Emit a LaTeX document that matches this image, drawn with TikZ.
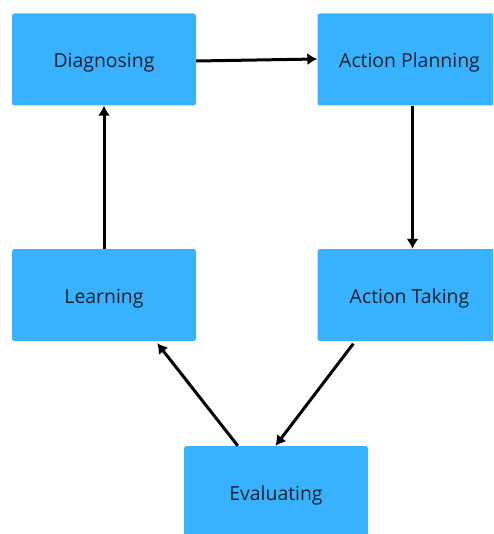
\documentclass[tikz,border=0pt]{standalone}
\usepackage{fontspec}
\setmainfont{Open Sans}
\usetikzlibrary{arrows.meta}
\definecolor{boxblue}{RGB}{56,178,255}
\definecolor{txt}{RGB}{22,30,46}
\begin{document}
\begin{tikzpicture}[x=1pt,y=-1pt,
  stagebox/.style={fill=boxblue, draw=none, rounded corners=2.5pt, minimum width=184pt, minimum height=92pt, inner sep=0pt, text height=20pt, text depth=4pt, text=txt, font=\fontsize{19.4}{22}\selectfont},
  flow/.style={line width=3pt, -{Latex[length=10pt,width=12pt]}}]
\useasboundingbox (0,0) rectangle (493,534);
\clip (0,0) rectangle (493,534);
\node[stagebox] (d) at (104,59.5) {Diagnosing};
\node[stagebox] (ap) at (409.5,59.5) {Action Planning};
\node[stagebox] (l) at (104,295) {Learning};
\node[stagebox] (at) at (409.5,295) {Action Taking};
\node[stagebox] (ev) at (276,492) {Evaluating};
\draw[flow] ([yshift=-1.5pt]d.east) -- ([yshift=0.5pt]ap.west);
\draw[flow] ([xshift=3pt]ap.south) -- ([xshift=3pt]at.north);
\draw[flow] (l.north) -- (d.south);
\draw[flow] ([xshift=36pt,yshift=-2.5pt]at.south west) -- ([xshift=-0.5pt]ev.north);
\draw[flow] ([xshift=54pt]ev.north west) -- ([xshift=-39pt,yshift=-2pt]l.south east);
\end{tikzpicture}
\end{document}
